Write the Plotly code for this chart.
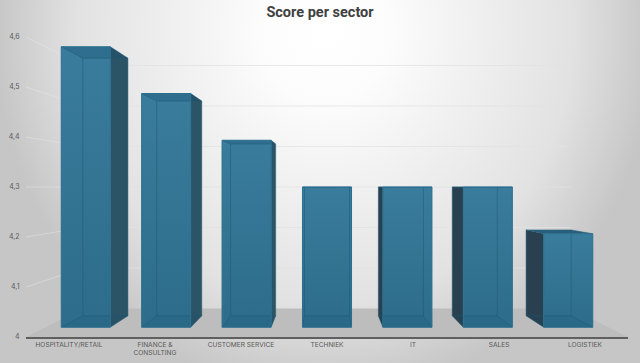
import base64
import plotly.graph_objects as go

# ---- data ----
categories = ["HOSPITALITY/RETAIL", "FINANCE &<br>CONSULTING", "CUSTOMER SERVICE",
              "TECHNIEK", "IT", "SALES", "LOGISTIEK"]
scores = [4.6, 4.5, 4.4, 4.3, 4.3, 4.3, 4.2]
y_ticks = [4, 4.1, 4.2, 4.3, 4.4, 4.5, 4.6]
title_text = "Score per sector"

# ---- 3D look: perspective scale around a vanishing point in data units ----
VP_X, VP_Y = 3.0, 4.3
S_FRONT_BAR, S_BACK_BAR, S_WALL = 0.935, 0.859, 0.81
HALF = 0.305
BASE = 4.0


def proj(x, y, s):
    return VP_X + (x - VP_X) * s, VP_Y + (y - VP_Y) * s


def poly(points, **kw):
    xs, ys = zip(*[proj(*p) for p in points])
    kw.setdefault("mode", "lines")
    kw.setdefault("line", dict(width=0))
    return go.Scatter(x=list(xs), y=list(ys), hoverinfo="skip", showlegend=False, **kw)


fig = go.Figure()

# floor
fig.add_trace(poly([(-0.5, BASE, 1), (6.5, BASE, 1), (6.5, BASE, S_WALL), (-0.5, BASE, S_WALL), (-0.5, BASE, 1)],
                   fill="toself", fillcolor="#bdbdbd"))

# gridlines: left wall and back wall
GRID_BACK = "rgba(226,226,226,0.75)"
GRID_LEFT = "rgba(232,232,232,0.5)"
for t in y_ticks[1:]:
    fig.add_trace(poly([(-0.5, t, 1), (-0.5, t, S_WALL)], line=dict(color=GRID_LEFT, width=1)))
    fig.add_trace(poly([(-0.5, t, S_WALL), (6.5, t, S_WALL)], line=dict(color=GRID_BACK, width=1)))

SIDE_R = "#2b5467"
SIDE_L = "#28404f"
TOP = "rgba(24,80,110,0.3)"
BOTTOM = "rgba(24,80,110,0.12)"
EDGE = "rgba(30,90,120,0.5)"

for i, v in enumerate(scores):
    l, r = i - HALF, i + HALF
    fb, bb = S_FRONT_BAR, S_BACK_BAR
    # visible side faces
    if i < VP_X:
        fig.add_trace(poly([(r, BASE, fb), (r, BASE, bb), (r, v, bb), (r, v, fb), (r, BASE, fb)],
                           fill="toself", fillcolor=SIDE_R))
    if i > VP_X:
        fig.add_trace(poly([(l, BASE, fb), (l, BASE, bb), (l, v, bb), (l, v, fb), (l, BASE, fb)],
                           fill="toself", fillcolor=SIDE_L))
    # front face
    fig.add_trace(poly([(l, BASE, fb), (r, BASE, fb), (r, v, fb), (l, v, fb), (l, BASE, fb)],
                       fill="toself",
                       fillgradient=dict(type="vertical",
                                         colorscale=[[0, "#2d6c8b"], [1, "#3a7c9c"]])))
    # top and bottom faces, seen through the translucent front
    fig.add_trace(poly([(l, v, fb), (r, v, fb), (r, v, bb), (l, v, bb), (l, v, fb)],
                       fill="toself", fillcolor=TOP if v >= VP_Y else "#2a5f7c"))
    fig.add_trace(poly([(l, BASE, fb), (r, BASE, fb), (r, BASE, bb), (l, BASE, bb), (l, BASE, fb)],
                       fill="toself", fillcolor=BOTTOM))
    # see-through edges of the far face
    fig.add_trace(poly([(l, v, bb), (r, v, bb), (r, BASE, bb), (l, BASE, bb), (l, v, bb)],
                       line=dict(color=EDGE, width=1)))
    for cx in (l, r):
        fig.add_trace(poly([(cx, v, fb), (cx, v, bb)], line=dict(color=EDGE, width=1)))
        fig.add_trace(poly([(cx, BASE, fb), (cx, BASE, bb)], line=dict(color=EDGE, width=1)))
    # front outline
    fig.add_trace(poly([(l, BASE, fb), (r, BASE, fb), (r, v, fb), (l, v, fb), (l, BASE, fb)],
                       line=dict(color="#2a6f90", width=1)))

bg_svg = """<svg xmlns='http://www.w3.org/2000/svg' width='640' height='363'>
<defs><radialGradient id='g' gradientUnits='userSpaceOnUse' cx='0' cy='0' r='1'
gradientTransform='translate(325 30) scale(330 365)'>
<stop offset='0' stop-color='#ffffff'/><stop offset='0.2' stop-color='#fcfcfc'/>
<stop offset='0.45' stop-color='#f0f0f0'/><stop offset='0.75' stop-color='#e2e2e2'/>
<stop offset='1' stop-color='#c6c6c6'/>
</radialGradient></defs><rect width='640' height='363' fill='url(#g)'/></svg>"""
bg_uri = "data:image/svg+xml;base64," + base64.b64encode(bg_svg.encode()).decode()

ML, MR, MT, MB = 26, 12, 37, 26.4
PW, PH = 640 - ML - MR, 363 - MT - MB

fig.update_layout(
    width=640, height=363, autosize=False,
    margin=dict(l=ML, r=MR, t=MT, b=MB, autoexpand=False),
    paper_bgcolor="#c6c6c6", plot_bgcolor="rgba(0,0,0,0)",
    separators=", ",
    showlegend=False,
    title=dict(text=f"<b>{title_text}</b>", x=0.5, xanchor="center", y=0.967, yanchor="middle",
               automargin=False, font=dict(family="Roboto", size=14.5, color="#404040")),
    images=[dict(source=bg_uri, xref="paper", yref="paper", x=-ML / PW, y=(PH + MT) / PH,
                 sizex=640 / PW, sizey=363 / PH, xanchor="left", yanchor="top",
                 sizing="stretch", layer="below")],
    xaxis=dict(range=[-0.5, 6.5], tickvals=list(range(len(categories))), ticktext=categories,
               automargin=False,
               showgrid=False, zeroline=False, showline=True, linecolor="#5f5f5f", linewidth=1.5,
               ticks="", tickangle=0, tickfont=dict(family="Inter", size=6.6, color="#595959")),
    yaxis=dict(range=[4, 4.6], tickvals=y_ticks, ticktext=[str(t).replace(".", ",") for t in y_ticks],
               automargin=False,
               showgrid=False, zeroline=False, showline=False,
               ticks="outside", ticklen=4, tickcolor="rgba(0,0,0,0)",
               tickfont=dict(family="Inter", size=7, color="#595959")),
)
fig.write_html("out.html", config=dict(displayModeBar=False),
               post_script="document.body.style.margin='0';document.body.style.overflow='hidden';")
